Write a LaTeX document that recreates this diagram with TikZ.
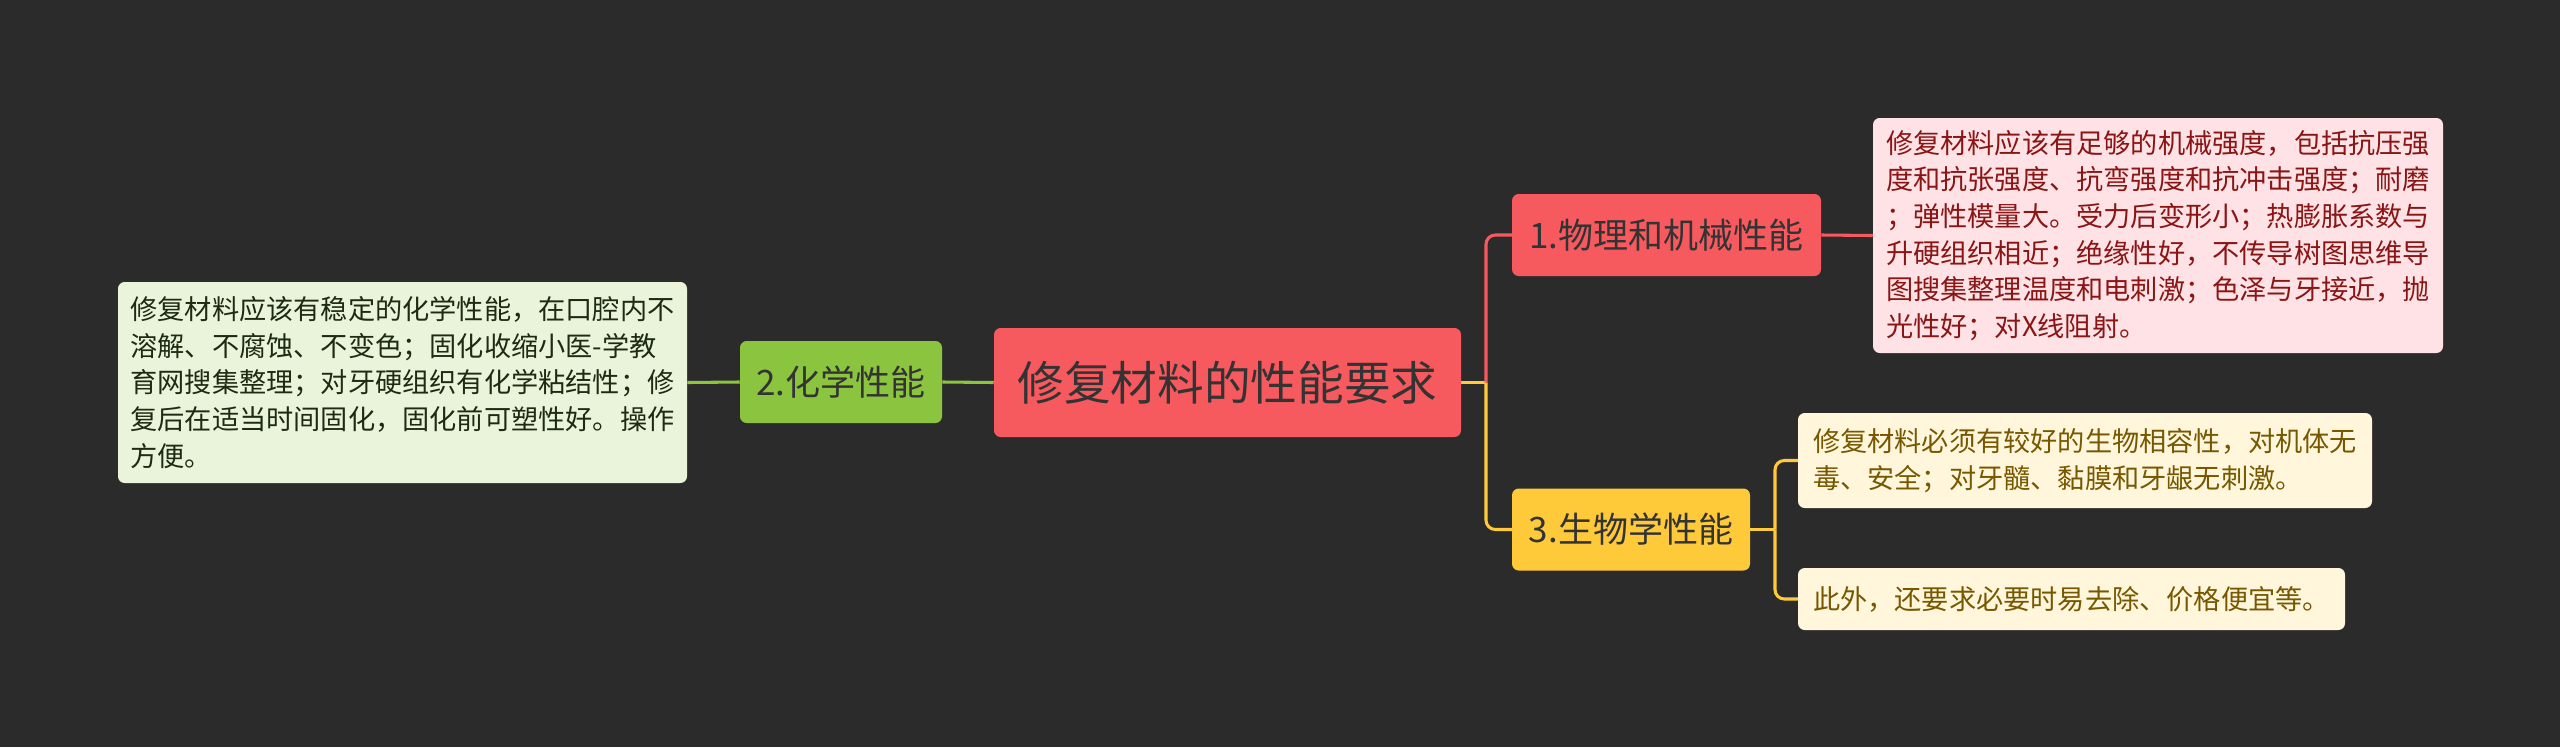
\documentclass[tikz,border=0pt]{standalone}
\usepackage{fontspec}
\setmainfont{Noto Sans CJK SC}
\usepackage{xcolor}
\usepackage{tikz}
\usetikzlibrary{positioning,calc}
\definecolor{mapbg}{HTML}{2B2B2B}
\definecolor{mapred}{HTML}{F65A5E}
\definecolor{mapgreen}{HTML}{8BC53F}
\definecolor{mapyellow}{HTML}{FFCA3A}
\definecolor{mapink}{HTML}{333333}
\definecolor{redpale}{HTML}{FFE2E5}
\definecolor{redink}{HTML}{8A1515}
\definecolor{greenpale}{HTML}{EAF4DA}
\definecolor{greenink}{HTML}{1E2A12}
\definecolor{yellowpale}{HTML}{FFF6DB}
\definecolor{yellowink}{HTML}{775800}

\begin{document}
\begin{tikzpicture}[
      x=0.75pt, y=-0.75pt,
      topic/.style={fill=mapred, rounded corners=5pt, text=mapink, inner sep=0pt,
                 minimum width=350.25pt, minimum height=81.75pt, font=\fontsize{35}{40}\selectfont},
      sub/.style={rounded corners=5pt, text=mapink, inner sep=0pt,
                 minimum height=61.5pt, font=\fontsize{26.25}{30}\selectfont},
      leaf/.style={rounded corners=5pt, align=left, inner xsep=0pt, inner ysep=0pt,
                 font=\fontsize{20.4}{27.5}\selectfont},
      link/.style={line width=2.3pt, rounded corners=7pt}]
    \fill[mapbg] (0,0) rectangle (2560,747);
    \useasboundingbox (0,0) rectangle (2560,747);

    \node[topic] (root) at (1227.5,382.5) {修复材料的性能要求};

    \node[sub, fill=mapred,    minimum width=231.75pt] (phys) at (1666.5,235)   {1.物理和机械性能};
    \node[sub, fill=mapgreen,  minimum width=151.5pt]  (chem) at (841,382)      {2.化学性能};
    \node[sub, fill=mapyellow, minimum width=178.5pt]  (bio)  at (1631,529.5)   {3.生物学性能};

    \node[leaf, fill=redpale, text=redink, minimum width=427.5pt, minimum height=176.25pt] (physnote) at (2158,235.5)
      {修复材料应该有足够的机械强度，包括抗压强\\度和抗张强度、抗弯强度和抗冲击强度；耐磨\\；弹性模量大。受力后变形小；热膨胀系数与\\升硬组织相近；绝缘性好，不传导树图思维导\\图搜集整理温度和电刺激；色泽与牙接近，抛\\光性好；对X线阻射。};
    \node[leaf, fill=greenpale, text=greenink, minimum width=426.75pt, minimum height=150.75pt] (chemnote) at (402.5,382.5)
      {修复材料应该有稳定的化学性能，在口腔内不\\溶解、不腐蚀、不变色；固化收缩小医-学教\\育网搜集整理；对牙硬组织有化学粘结性；修\\复后在适当时间固化，固化前可塑性好。操作\\方便。};
    \node[leaf, fill=yellowpale, text=yellowink, minimum width=430.5pt, minimum height=71.25pt] (bionote) at (2085,460.5)
      {修复材料必须有较好的生物相容性，对机体无\\毒、安全；对牙髓、黏膜和牙龈无刺激。};
    \node[leaf, fill=yellowpale, text=yellowink, minimum width=410.25pt, minimum height=46.5pt] (bioextra) at (2071.5,599)
      {此外，还要求必要时易去除、价格便宜等。};

    \coordinate (rootfork) at (1486,382.5);
    \coordinate (biofork) at (1775,529.5);

    \draw[link, mapyellow] (root.east) -- (rootfork);
    \draw[link, mapred] (rootfork) |- (phys.west);
    \draw[link, mapyellow] (rootfork) |- (bio.west);
    \draw[link, mapred] (phys.east) -- (physnote.west);
    \draw[link, mapgreen] (root.west) -- (chem.east);
    \draw[link, mapgreen] (chem.west) -- (chemnote.east);
    \draw[link, mapyellow] (bio.east) -- (biofork);
    \draw[link, mapyellow] (biofork) |- (bionote.west);
    \draw[link, mapyellow] (biofork) |- (bioextra.west);
  \end{tikzpicture}
\end{document}
